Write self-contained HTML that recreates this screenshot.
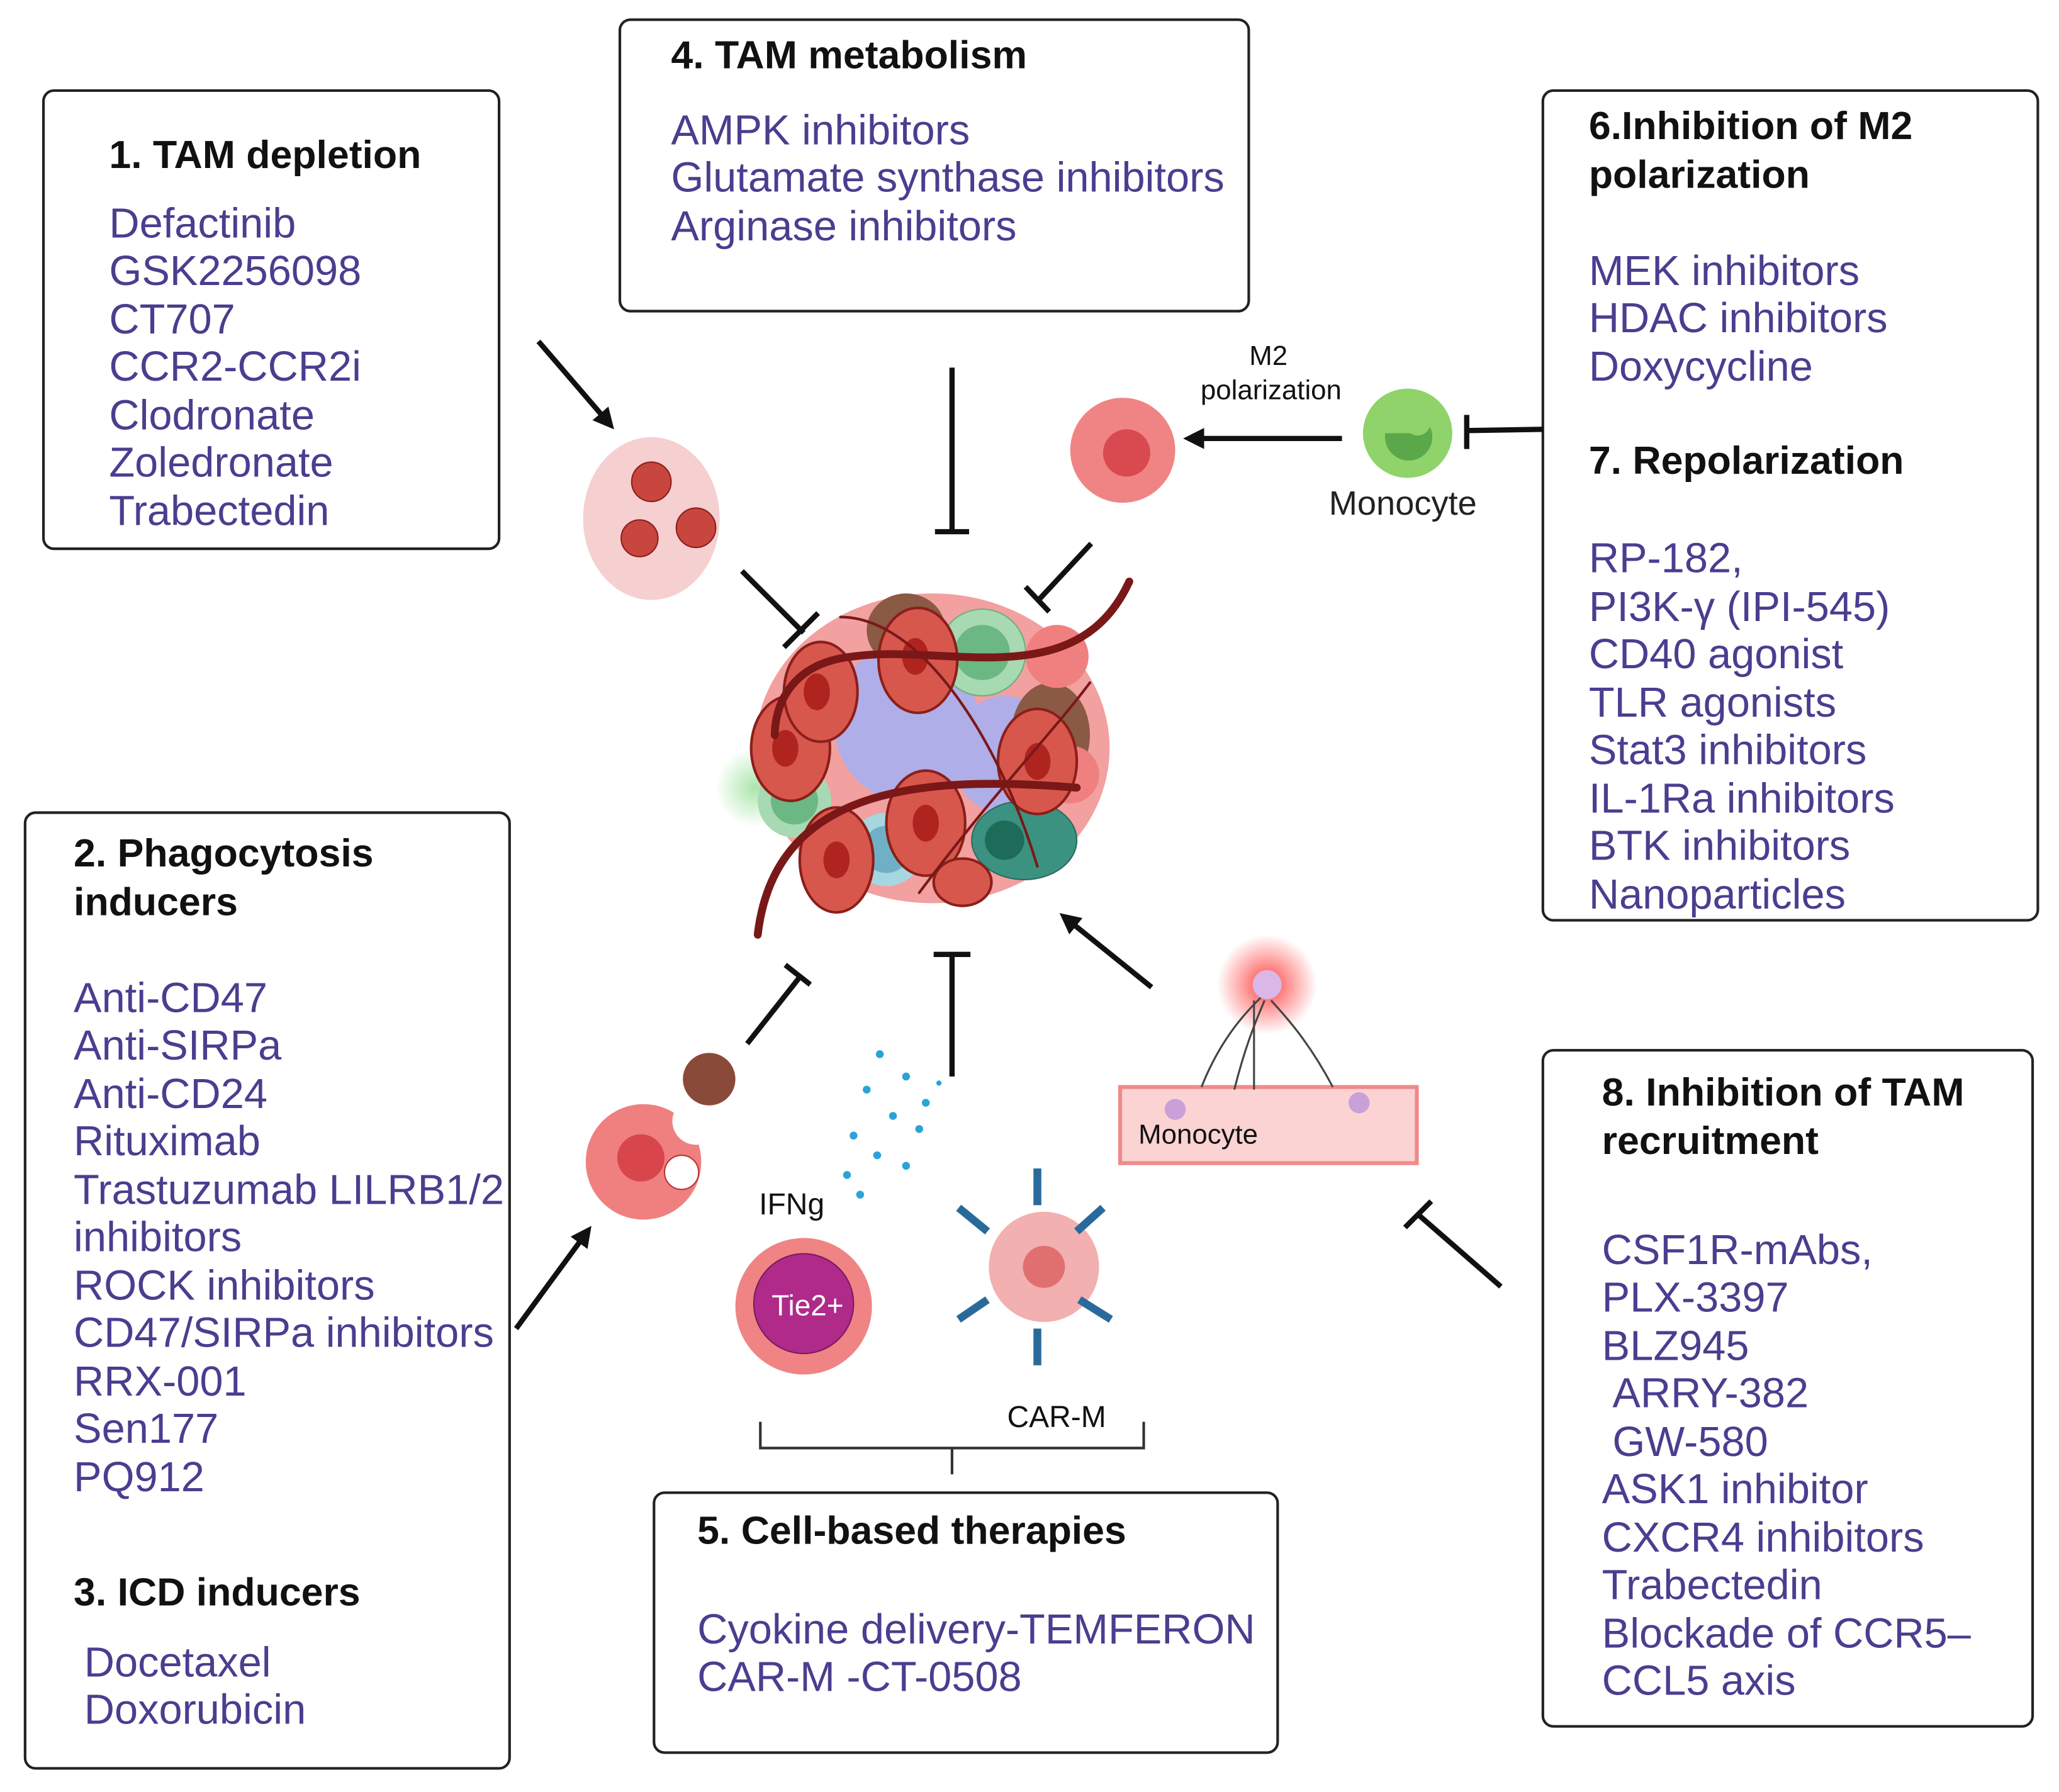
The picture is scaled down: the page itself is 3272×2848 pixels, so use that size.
<!DOCTYPE html>
<html><head><meta charset="utf-8"><style>
html,body{margin:0;padding:0;background:#fff;}
svg{display:block;}
.t{font-family:"Liberation Sans",sans-serif;font-weight:bold;font-size:30px;fill:#111;}
.p{font-family:"Liberation Sans",sans-serif;font-size:32px;fill:#4b3d8f;}
.s{font-family:"Liberation Sans",sans-serif;font-size:21px;fill:#111;}
</style></head><body>
<svg width="3272" height="2848" viewBox="0 0 1568 1365" xmlns="http://www.w3.org/2000/svg">
<defs>
<marker id="ah" markerWidth="16" markerHeight="16" refX="12" refY="8" orient="auto" markerUnits="userSpaceOnUse" viewBox="0 0 16 16"><path d="M0,0 L16,8 L0,16 z" fill="#111"/></marker>
<radialGradient id="glow"><stop offset="0" stop-color="#ff3030" stop-opacity=".9"/><stop offset="1" stop-color="#ff3030" stop-opacity="0"/></radialGradient>
<radialGradient id="gg"><stop offset="0" stop-color="#5c5" stop-opacity=".5"/><stop offset="1" stop-color="#5c5" stop-opacity="0"/></radialGradient>
</defs>
<g fill="none" stroke="#222" stroke-width="2">
<rect x="33" y="69" width="347" height="349" rx="8"/>
<rect x="472" y="15" width="479" height="222" rx="8"/>
<rect x="1175" y="69" width="377" height="632" rx="8"/>
<rect x="19" y="619" width="369" height="728" rx="8"/>
<rect x="498" y="1137" width="475" height="198" rx="8"/>
<rect x="1175" y="800" width="373" height="515" rx="8"/>
</g>
<text class="t" x="83" y="128">1. TAM depletion</text>
<text class="p" x="83" y="181">Defactinib</text><text class="p" x="83" y="217">GSK2256098</text><text class="p" x="83" y="254">CT707</text><text class="p" x="83" y="290">CCR2-CCR2i</text><text class="p" x="83" y="327">Clodronate</text><text class="p" x="83" y="363">Zoledronate</text><text class="p" x="83" y="400">Trabectedin</text>
<text class="t" x="511" y="52">4. TAM metabolism</text>
<text class="p" x="511" y="110">AMPK inhibitors</text><text class="p" x="511" y="146">Glutamate synthase inhibitors</text><text class="p" x="511" y="183">Arginase inhibitors</text>
<text class="t" x="1210" y="106">6.Inhibition of M2</text><text class="t" x="1210" y="143">polarization</text>
<text class="p" x="1210" y="217">MEK inhibitors</text><text class="p" x="1210" y="253">HDAC inhibitors</text><text class="p" x="1210" y="290">Doxycycline</text>
<text class="t" x="1210" y="361">7. Repolarization</text>
<text class="p" x="1210" y="436">RP-182,</text><text class="p" x="1210" y="473">PI3K-γ (IPI-545)</text><text class="p" x="1210" y="509">CD40 agonist</text><text class="p" x="1210" y="546">TLR agonists</text><text class="p" x="1210" y="582">Stat3 inhibitors</text><text class="p" x="1210" y="619">IL-1Ra inhibitors</text><text class="p" x="1210" y="655">BTK inhibitors</text><text class="p" x="1210" y="692">Nanoparticles</text>
<text class="t" x="56" y="660">2. Phagocytosis</text><text class="t" x="56" y="697">inducers</text>
<text class="p" x="56" y="771">Anti-CD47</text><text class="p" x="56" y="807">Anti-SIRPa</text><text class="p" x="56" y="844">Anti-CD24</text><text class="p" x="56" y="880">Rituximab</text><text class="p" x="56" y="917">Trastuzumab LILRB1/2</text><text class="p" x="56" y="953">inhibitors</text><text class="p" x="56" y="990">ROCK inhibitors</text><text class="p" x="56" y="1026">CD47/SIRPa inhibitors</text><text class="p" x="56" y="1063">RRX-001</text><text class="p" x="56" y="1099">Sen177</text><text class="p" x="56" y="1136">PQ912</text>
<text class="t" x="56" y="1223">3. ICD inducers</text>
<text class="p" x="64" y="1277">Docetaxel</text><text class="p" x="64" y="1313">Doxorubicin</text>
<text class="t" x="531" y="1176">5. Cell-based therapies</text>
<text class="p" x="531" y="1252">Cyokine delivery-TEMFERON</text><text class="p" x="531" y="1288">CAR-M -CT-0508</text>
<text class="t" x="1220" y="842">8. Inhibition of TAM</text><text class="t" x="1220" y="879">recruitment</text>
<text class="p" x="1220" y="963">CSF1R-mAbs,</text><text class="p" x="1220" y="999">PLX-3397</text><text class="p" x="1220" y="1036">BLZ945</text><text class="p" x="1228" y="1072">ARRY-382</text><text class="p" x="1228" y="1109">GW-580</text><text class="p" x="1220" y="1145">ASK1 inhibitor</text><text class="p" x="1220" y="1182">CXCR4 inhibitors</text><text class="p" x="1220" y="1218">Trabectedin</text><text class="p" x="1220" y="1255">Blockade of CCR5–</text><text class="p" x="1220" y="1291">CCL5 axis</text>

<g stroke="#111" stroke-width="4" fill="none">
<line x1="410" y1="260" x2="465" y2="324" marker-end="url(#ah)"/>
<line x1="565" y1="435" x2="612" y2="482"/><line x1="597" y1="493" x2="623" y2="467"/>
<line x1="725" y1="280" x2="725" y2="405"/><line x1="712" y1="405" x2="738" y2="405"/>
<line x1="831" y1="414" x2="790" y2="458"/><line x1="781" y1="447" x2="799" y2="466"/>
<line x1="1022" y1="334" x2="905" y2="334" marker-end="url(#ah)"/>
<line x1="1175" y1="327" x2="1117" y2="328"/><line x1="1117" y1="316" x2="1117" y2="342"/>
<line x1="569" y1="795" x2="610" y2="743"/><line x1="598" y1="735" x2="617" y2="750"/>
<line x1="725" y1="820" x2="725" y2="727"/><line x1="711" y1="727" x2="739" y2="727"/>
<line x1="877" y1="752" x2="810" y2="698" marker-end="url(#ah)"/>
<line x1="393" y1="1012" x2="448" y2="937" marker-end="url(#ah)"/>
<line x1="1143" y1="980" x2="1081" y2="926"/><line x1="1070" y1="935" x2="1090" y2="915"/>
</g>
<path d="M579,1083 V1103 H871 V1083 M725,1103 V1123" stroke="#333" stroke-width="2" fill="none"/>

<circle cx="575" cy="600" r="30" fill="url(#gg)"/>
<ellipse cx="710" cy="570" rx="135" ry="118" fill="#f2a0a0"/>
<ellipse cx="690" cy="550" rx="55" ry="60" fill="#b0aee8"/>
<ellipse cx="765" cy="575" rx="40" ry="45" fill="#b0aee8"/>
<ellipse cx="690" cy="480" rx="30" ry="28" fill="#8a5a45"/>
<ellipse cx="800" cy="560" rx="30" ry="40" fill="#8a5a45"/>
<circle cx="748" cy="497" r="33" fill="#a7d9b2" stroke="#6bb07d"/><circle cx="748" cy="497" r="21" fill="#6bb884"/>
<circle cx="605" cy="610" r="28" fill="#a7d9b2"/><circle cx="605" cy="610" r="18" fill="#6bb884"/>
<circle cx="675" cy="647" r="28" fill="#a6d6e0"/><circle cx="675" cy="647" r="18" fill="#6fb0c6"/>
<ellipse cx="780" cy="640" rx="40" ry="30" fill="#3c9281" stroke="#2a6a5e"/><circle cx="765" cy="640" r="15" fill="#1f6b5a"/>
<circle cx="805" cy="500" r="24" fill="#f08080"/><circle cx="815" cy="590" r="22" fill="#f08080"/>
<g fill="#d8574c" stroke="#8a1f1a" stroke-width="2">
<ellipse cx="602" cy="570" rx="30" ry="40"/><ellipse cx="625" cy="527" rx="28" ry="38"/><ellipse cx="699" cy="503" rx="30" ry="40"/><ellipse cx="790" cy="580" rx="30" ry="40" /><ellipse cx="705" cy="627" rx="30" ry="40"/><ellipse cx="637" cy="655" rx="28" ry="40"/><ellipse cx="733" cy="672" rx="22" ry="18"/>
</g>
<g fill="#b0241f">
<ellipse cx="598" cy="570" rx="10" ry="14"/><ellipse cx="622" cy="527" rx="10" ry="14"/><ellipse cx="697" cy="500" rx="10" ry="14"/><ellipse cx="790" cy="580" rx="10" ry="14"/><ellipse cx="705" cy="627" rx="10" ry="14"/><ellipse cx="637" cy="655" rx="10" ry="14"/>
</g>
<g stroke="#7a1818" fill="none" stroke-linecap="round">
<path d="M577,712 C590,600 700,590 820,600" stroke-width="6"/>
<path d="M860,443 C820,530 720,490 650,500 C600,505 590,540 590,560" stroke-width="6"/>
<path d="M640,470 C700,470 760,560 790,660" stroke-width="2"/>
<path d="M700,680 C760,600 800,560 830,520" stroke-width="2"/>
</g>
<ellipse cx="496" cy="395" rx="52" ry="62" fill="#f6cfd0"/>
<g fill="#c8463e" stroke="#8a1f1a"><circle cx="496" cy="367" r="15"/><circle cx="487" cy="410" r="14"/><circle cx="530" cy="402" r="15"/></g>
<circle cx="855" cy="343" r="40" fill="#f08484"/><circle cx="858" cy="345" r="18" fill="#d84a50"/>
<circle cx="1072" cy="330" r="34" fill="#8fd36a"/><path d="M1055,330 a18,18 0 1,0 34,-5 a10,10 0 0,1 -15,5 z" fill="#5aa84a"/>
<text class="s" x="966" y="278" text-anchor="middle">M2</text>
<text class="s" x="968" y="304" text-anchor="middle">polarization</text>
<text class="p" x="1012" y="392" style="font-size:26px;fill:#222">Monocyte</text>
<circle cx="490" cy="885" r="44" fill="#f08080"/><circle cx="488" cy="882" r="18" fill="#d8464c"/><circle cx="519" cy="893" r="13" fill="#fff" stroke="#b33"/><circle cx="530" cy="854" r="18" fill="#fff"/>
<ellipse cx="540" cy="822" rx="20" ry="20" fill="#8a4a3a"/>
<g fill="#2aa4d8"><circle cx="670" cy="803" r="3"/><circle cx="690" cy="820" r="3"/><circle cx="660" cy="830" r="3"/><circle cx="705" cy="840" r="3"/><circle cx="680" cy="850" r="3"/><circle cx="650" cy="865" r="3"/><circle cx="700" cy="860" r="3"/><circle cx="668" cy="880" r="3"/><circle cx="645" cy="895" r="3"/><circle cx="690" cy="888" r="3"/><circle cx="655" cy="910" r="3"/><circle cx="715" cy="825" r="2"/></g>
<text class="s" x="578" y="925" style="font-size:23px">IFNg</text>
<circle cx="612" cy="995" r="52" fill="#f08484"/><circle cx="612" cy="993" r="38" fill="#b02a8a" stroke="#7a1a60"/>
<text class="s" x="615" y="1002" text-anchor="middle" style="fill:#fff;font-size:22px">Tie2+</text>
<circle cx="795" cy="965" r="42" fill="#f2b0b0"/><circle cx="795" cy="965" r="16" fill="#e07070"/>
<g stroke="#2a6a9a" stroke-width="6"><line x1="790" y1="890" x2="790" y2="918"/><line x1="790" y1="1012" x2="790" y2="1040"/><line x1="730" y1="920" x2="752" y2="938"/><line x1="840" y1="920" x2="820" y2="938"/><line x1="730" y1="1005" x2="752" y2="990"/><line x1="846" y1="1005" x2="822" y2="990"/></g>
<text class="s" x="767" y="1087" style="font-size:23px">CAR-M</text>
<circle cx="965" cy="750" r="38" fill="url(#glow)"/><circle cx="965" cy="750" r="11" fill="#d9b8e8"/>
<rect x="853" y="828" width="226" height="58" fill="#fbd3d3" stroke="#f08a8a" stroke-width="3"/>
<g stroke="#444" fill="none" stroke-width="1.5"><path d="M915,828 C930,790 950,770 960,760"/><path d="M955,830 V762"/><path d="M1015,828 C995,790 975,770 968,762"/><path d="M940,830 C950,790 960,770 963,762"/></g>
<circle cx="895" cy="845" r="8" fill="#c9a0d8"/><circle cx="1035" cy="840" r="8" fill="#c9a0d8"/>
<text class="s" x="867" y="871">Monocyte</text>
</svg>
</body></html>
